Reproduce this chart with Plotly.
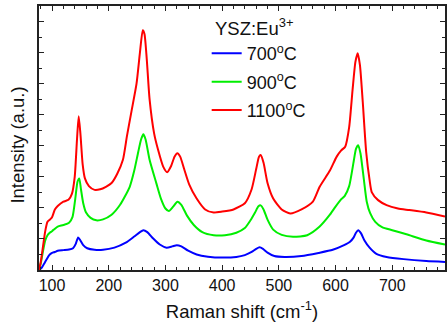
import plotly.graph_objects as go

# ---- data ----
series_names = ["700<sup>o</sup>C", "900<sup>o</sup>C", "1100<sup>o</sup>C"]
series_colors = ["#0000ff", "#00ee00", "#ff0000"]

x_700 = [77, 82, 86, 90, 95, 100, 105, 110, 120, 130, 137, 142, 146, 150, 155, 162, 175, 190, 210, 230, 245, 255, 261, 268, 278, 290, 302, 312, 320, 328, 340, 355, 375, 400, 425, 440, 452, 460, 466, 472, 480, 492, 510, 540, 570, 595, 615, 625, 632, 636, 640, 645, 651, 660, 672, 690, 720, 760, 793]
y_700 = [0.0, 0.08, 0.2, 0.33, 0.48, 0.55, 0.58, 0.62, 0.64, 0.66, 0.7, 0.85, 1.05, 0.95, 0.8, 0.7, 0.65, 0.65, 0.72, 0.88, 1.08, 1.22, 1.28, 1.22, 1.02, 0.82, 0.72, 0.76, 0.8, 0.76, 0.62, 0.5, 0.43, 0.40, 0.42, 0.48, 0.58, 0.68, 0.73, 0.68, 0.56, 0.45, 0.42, 0.45, 0.55, 0.65, 0.8, 0.9, 1.05, 1.2, 1.28, 1.18, 0.95, 0.72, 0.52, 0.42, 0.35, 0.29, 0.26]

x_900 = [77, 80, 84, 88, 92, 96, 100, 105, 110, 120, 130, 136, 141, 145, 148, 151, 155, 160, 168, 178, 190, 205, 220, 237, 245, 252, 257, 261, 265, 272, 284, 292, 300, 306, 314, 321, 328, 338, 350, 365, 385, 405, 425, 440, 450, 458, 464, 468, 473, 480, 490, 505, 525, 550, 572, 590, 600, 610, 616, 624, 632, 636, 640, 644, 650, 655, 661, 670, 682, 700, 725, 760, 793]
y_900 = [0.0, 0.2, 0.6, 0.95, 1.12, 1.2, 1.25, 1.33, 1.4, 1.45, 1.52, 1.7, 2.3, 2.85, 2.95, 2.6, 2.15, 1.85, 1.68, 1.6, 1.63, 1.78, 2.1, 2.68, 3.2, 3.8, 4.2, 4.37, 4.2, 3.55, 2.79, 2.3, 1.98, 1.9, 2.05, 2.2, 2.1, 1.75, 1.45, 1.22, 1.12, 1.12, 1.2, 1.35, 1.6, 1.85, 2.05, 2.08, 1.95, 1.62, 1.3, 1.13, 1.07, 1.12, 1.4, 1.78, 2.04, 2.28, 2.38, 2.7, 3.5, 3.9, 4.02, 3.75, 2.9, 2.2, 1.83, 1.55, 1.38, 1.28, 1.15, 0.95, 0.82]

x_1100 = [77, 80, 84, 88, 92, 96, 100, 105, 110, 120, 129, 135, 140, 144, 147, 150, 154, 158, 165, 175, 185, 195, 205, 215, 225, 232, 240, 249, 255, 260, 263, 267, 272, 280, 287, 296, 303, 310, 316, 321, 326, 333, 342, 355, 370, 385, 400, 420, 440, 452, 460, 465, 468, 473, 480, 490, 505, 520, 540, 560, 572, 590, 602, 610, 617, 624, 630, 635, 639, 643, 648, 654, 660, 664, 675, 690, 710, 730, 760, 793]
y_1100 = [0.0, 0.25, 0.75, 1.25, 1.55, 1.62, 1.7, 1.95, 2.06, 2.2, 2.26, 2.45, 3.0, 4.2, 4.95, 4.4, 3.4, 2.95, 2.7, 2.58, 2.6, 2.68, 2.8, 3.1, 3.55, 4.3, 5.1, 6.0, 7.0, 7.72, 7.6, 6.8, 5.5, 4.4, 3.87, 3.33, 3.15, 3.35, 3.65, 3.76, 3.65, 3.25, 2.75, 2.3, 1.95, 1.85, 1.88, 1.95, 2.15, 2.6, 3.25, 3.65, 3.7, 3.45, 2.8, 2.3, 1.95, 1.82, 1.95, 2.2, 2.68, 3.2, 3.65, 3.85, 3.97, 4.6, 5.8, 6.7, 6.98, 6.6, 5.4, 3.8, 2.9, 2.5, 2.25, 2.09, 1.98, 1.93, 1.85, 1.72]

legend_title = "YSZ:Eu<sup>3+</sup>"
x_title = "Raman shift (cm<sup>-1</sup>)"
y_title = "Intensity (a.u.)"
x_tickvals = [100, 200, 300, 400, 500, 600, 700]

FONT = "Arial, Liberation Sans, sans-serif"

fig = go.Figure()
for xs, ys, name, col in zip([x_700, x_900, x_1100], [y_700, y_900, y_1100], series_names, series_colors):
    fig.add_trace(go.Scatter(x=xs, y=ys, mode="lines", name=name, legendgroup=name,
                             line=dict(color=col, width=2, shape="spline", smoothing=0.6)))

axis_common = dict(showline=True, linecolor="#222", linewidth=1.5, mirror="ticks",
                   ticks="inside", tickcolor="#222", showgrid=False, zeroline=False)

fig.update_layout(
    width=447, height=322,
    margin=dict(l=39, r=0, t=6, b=52),
    plot_bgcolor="white", paper_bgcolor="white",
    font=dict(family=FONT, color="#111"),
    xaxis=dict(range=[77, 793], tickvals=x_tickvals, ticklen=5, tickwidth=1.2,
               tickfont=dict(size=16, family=FONT, color="#111"),
               minor=dict(dtick=20, tick0=0, ticklen=3, ticks="inside", tickcolor="#222"),
               title=dict(text=x_title, font=dict(size=18.5, family=FONT, color="#111"), standoff=15),
               **axis_common),
    yaxis=dict(range=[0, 8.5], dtick=1, tick0=0, ticklen=5, tickwidth=1.2, showticklabels=False,
               minor=dict(dtick=0.5, ticklen=3, ticks="inside", tickcolor="#222"),
               **axis_common),
    showlegend=True,
    legend=dict(x=0.413, y=0.89, xanchor="left", yanchor="top", bgcolor="rgba(0,0,0,0)",
                font=dict(size=18, family=FONT, color="#111"), tracegroupgap=2),
    annotations=[
        dict(text=legend_title, xref="paper", yref="paper", x=0.4275, y=0.922,
             xanchor="left", yanchor="middle", showarrow=False,
             font=dict(size=18.5, family=FONT, color="#111")),
        dict(text=y_title, xref="paper", yref="paper", x=-0.0527, y=0.4735,
             xanchor="center", yanchor="middle", textangle=-90, showarrow=False,
             font=dict(size=18.5, family=FONT, color="#111")),
    ],
)

fig.write_html("out.html")
